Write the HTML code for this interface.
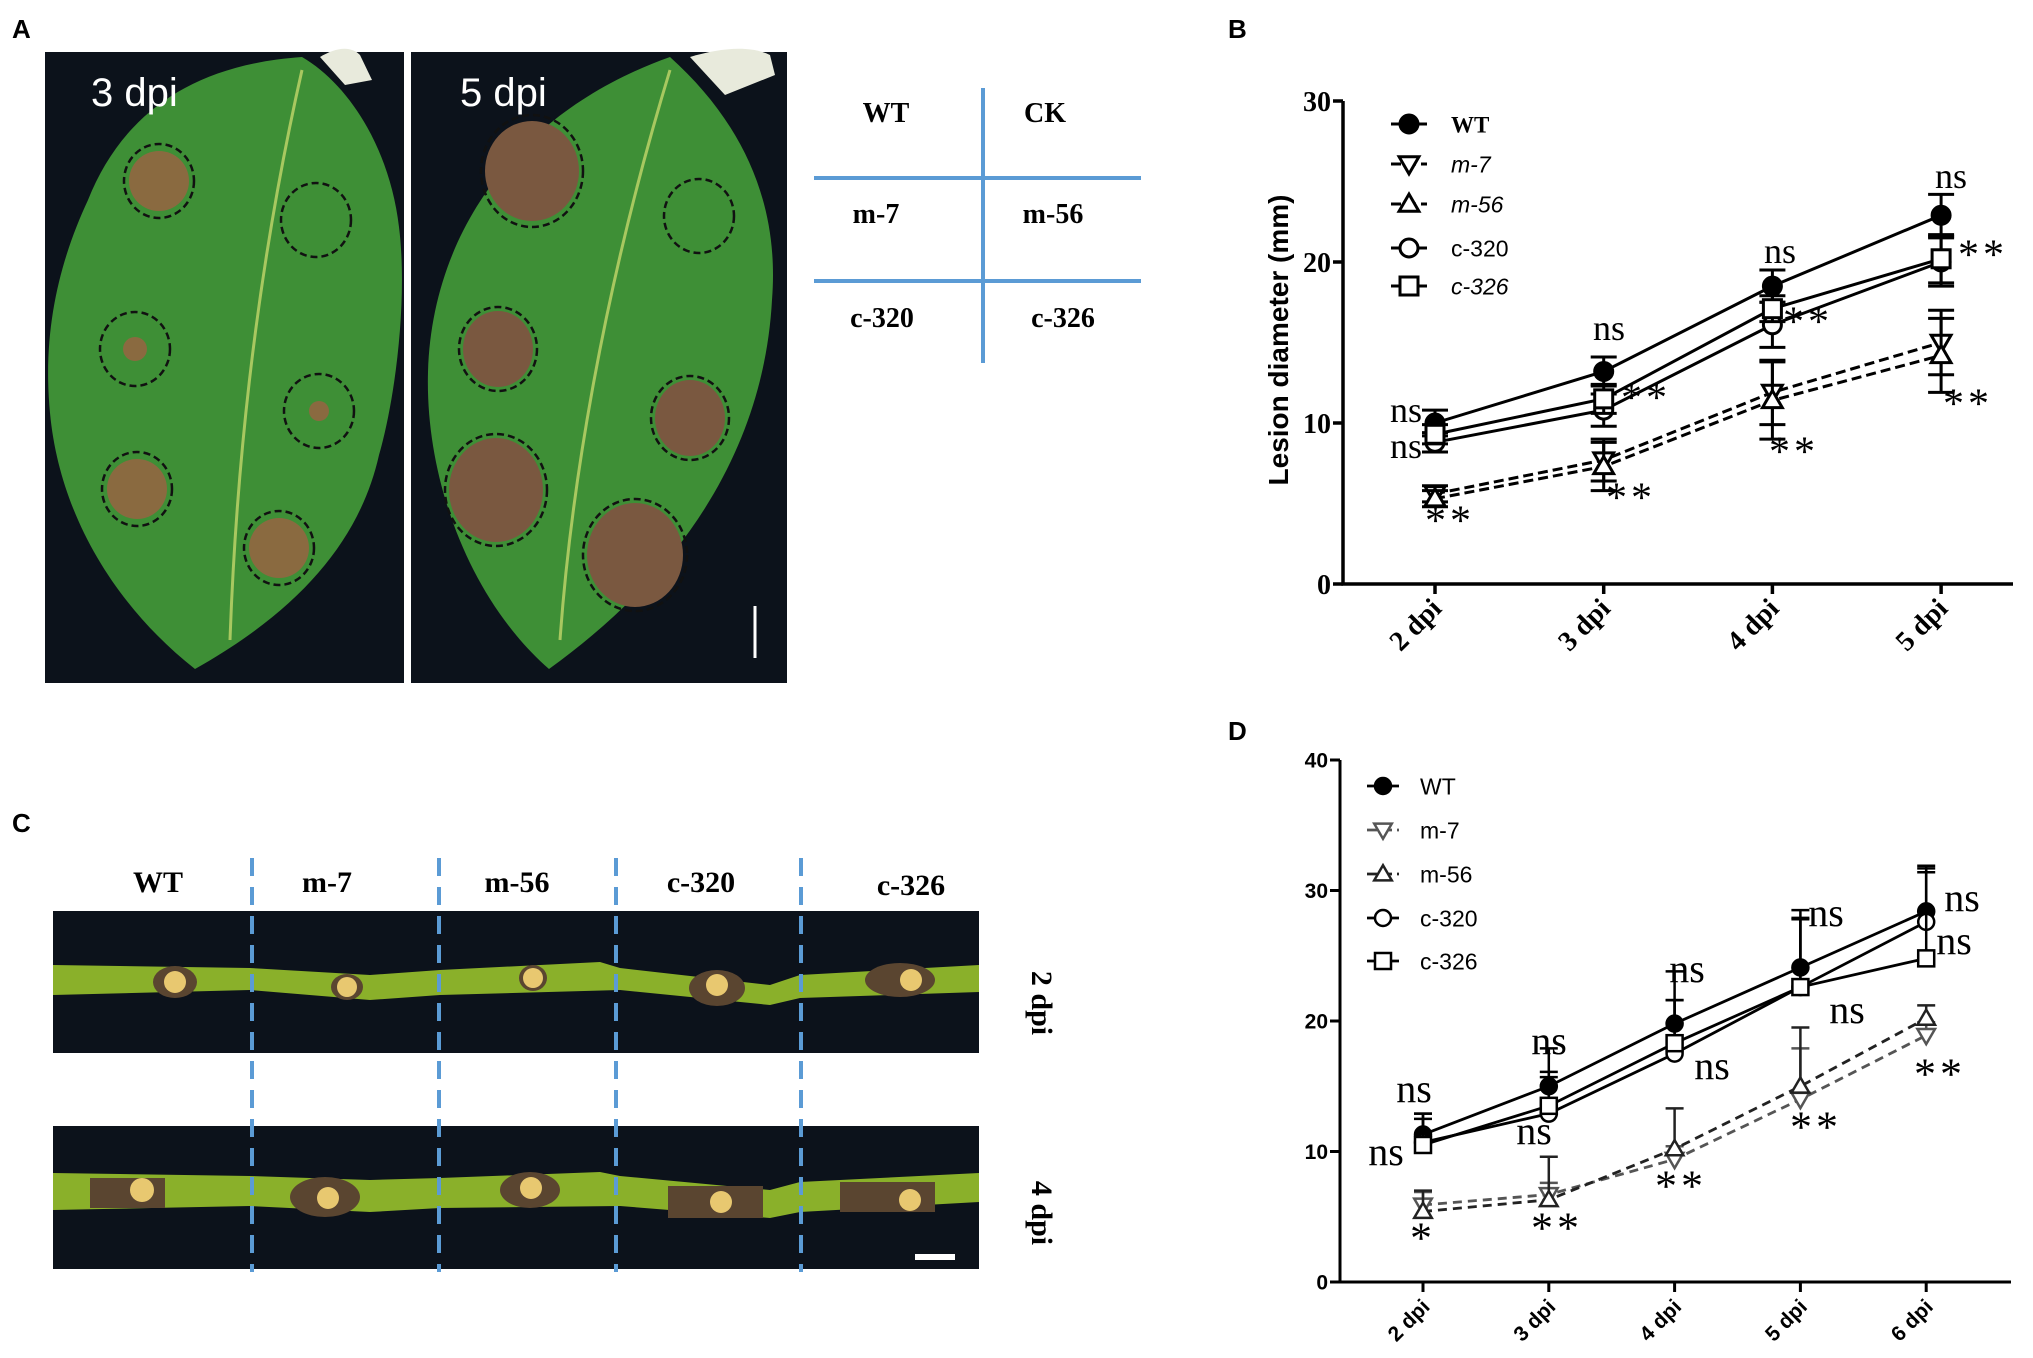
<!DOCTYPE html>
<html><head><meta charset="utf-8"><style>
html,body{margin:0;padding:0;background:#fff;}
svg{display:block;}
.pl{font-family:"Liberation Sans",sans-serif;font-weight:bold;font-size:26px;}
.sb{font-family:"Liberation Serif",serif;font-weight:bold;}
.ss{font-family:"Liberation Serif",serif;}
.sa{font-family:"Liberation Sans",sans-serif;}
</style></head><body>
<svg id="fig" width="2033" height="1358" viewBox="0 0 2033 1358" xmlns="http://www.w3.org/2000/svg">
<text class="pl" x="12" y="38">A</text>
<text class="pl" x="1228" y="38">B</text>
<text class="pl" x="12" y="832">C</text>
<text class="pl" x="1228" y="740">D</text>

<g>
<rect x="45" y="52" width="359" height="631" fill="#0c121b"/>
<path d="M320,57 C335,48 350,45 360,55 L372,80 L345,85 Z" fill="#e8eadc"/>
<path d="M195,669 C120,610 60,520 50,413 C42,330 60,260 88,200 C120,120 185,65 302,57 C350,85 390,150 399,227 C408,300 395,400 379,455 C360,540 300,610 195,669 Z" fill="#3e8f36"/>
<path d="M230,640 C235,500 250,300 302,70" stroke="#a8c860" stroke-width="3" fill="none"/>
<g fill="#8a6a40"><circle cx="159" cy="181" r="30"/><circle cx="135" cy="349" r="12"/><circle cx="319" cy="411" r="10"/><circle cx="137" cy="489" r="30"/><circle cx="279" cy="548" r="30"/></g>
<g fill="none" stroke="#111" stroke-width="2.5" stroke-dasharray="7,4">
<ellipse cx="159" cy="181" rx="35" ry="37"/><ellipse cx="316" cy="220" rx="35" ry="37"/><ellipse cx="135" cy="349" rx="35" ry="37"/><ellipse cx="319" cy="411" rx="35" ry="37"/><ellipse cx="137" cy="489" rx="35" ry="37"/><ellipse cx="279" cy="548" rx="35" ry="37"/></g>
<text class="sa" x="91" y="106" font-size="40" fill="#fff">3 dpi</text>
</g>
<g>
<rect x="411" y="52" width="376" height="631" fill="#0c121b"/>
<path d="M690,57 C720,48 750,45 770,55 L775,75 L725,95 Z" fill="#e8eadc"/>
<path d="M549,669 C470,600 425,480 428,372 C432,230 520,110 670,57 C740,120 780,200 772,300 C765,430 700,560 549,669 Z" fill="#3e8f36"/>
<path d="M560,640 C570,500 600,300 670,70" stroke="#a8c860" stroke-width="3" fill="none"/>
<g fill="#7a5840"><ellipse cx="532" cy="171" rx="47" ry="50"/><ellipse cx="498" cy="349" rx="35" ry="38"/><ellipse cx="690" cy="418" rx="35" ry="38"/><ellipse cx="496" cy="490" rx="47" ry="52"/><ellipse cx="635" cy="555" rx="48" ry="52"/></g>
<g fill="none" stroke="#111" stroke-width="2.5" stroke-dasharray="7,4">
<ellipse cx="532" cy="171" rx="51" ry="56"/><ellipse cx="699" cy="216" rx="35" ry="37"/><ellipse cx="498" cy="349" rx="39" ry="42"/><ellipse cx="690" cy="418" rx="39" ry="42"/><ellipse cx="496" cy="490" rx="51" ry="56"/><ellipse cx="635" cy="555" rx="52" ry="56"/></g>
<line x1="755" y1="606" x2="755" y2="658" stroke="#fff" stroke-width="3"/>
<text class="sa" x="460" y="106" font-size="40" fill="#fff">5 dpi</text>
</g>
<g>
<line x1="983" y1="88" x2="983" y2="363" stroke="#5b9bd5" stroke-width="4"/>
<line x1="814" y1="178" x2="1141" y2="178" stroke="#5b9bd5" stroke-width="4"/>
<line x1="814" y1="281" x2="1141" y2="281" stroke="#5b9bd5" stroke-width="4"/>
<g class="sb" font-size="28" text-anchor="middle">
<text x="886" y="122">WT</text><text x="1045" y="122">CK</text>
<text x="876" y="223">m-7</text><text x="1053" y="223">m-56</text>
<text x="882" y="327">c-320</text><text x="1063" y="327">c-326</text></g>
</g>

<g>
<rect x="53" y="911" width="926" height="142" fill="#0c121b"/>
<rect x="53" y="1126" width="926" height="143" fill="#0c121b"/>
<path d="M53,965 L250,968 L370,975 L440,970 L600,962 L620,968 L770,985 L800,975 L979,965 L979,992 L800,998 L770,1005 L620,990 L440,995 L370,1000 L250,990 L53,995 Z" fill="#8ab02a"/>
<path d="M53,1173 L250,1176 L370,1180 L440,1178 L600,1172 L620,1176 L770,1190 L800,1182 L979,1173 L979,1202 L800,1212 L770,1218 L620,1206 L440,1208 L370,1212 L250,1206 L53,1210 Z" fill="#8ab02a"/>
<g fill="#5a4530"><ellipse cx="175" cy="982" rx="22" ry="16"/><ellipse cx="347" cy="987" rx="16" ry="13"/><ellipse cx="533" cy="978" rx="14" ry="13"/><ellipse cx="717" cy="988" rx="28" ry="18"/><ellipse cx="900" cy="980" rx="35" ry="17"/>
<rect x="90" y="1178" width="75" height="30"/><ellipse cx="325" cy="1197" rx="35" ry="20"/><ellipse cx="530" cy="1190" rx="30" ry="18"/><rect x="668" y="1186" width="95" height="32"/><rect x="840" y="1182" width="95" height="30"/></g>
<g fill="#e8c870"><circle cx="175" cy="982" r="11"/><circle cx="347" cy="987" r="10"/><circle cx="533" cy="978" r="10"/><circle cx="717" cy="985" r="11"/><circle cx="911" cy="980" r="11"/>
<circle cx="142" cy="1190" r="12"/><circle cx="328" cy="1198" r="11"/><circle cx="531" cy="1188" r="11"/><circle cx="721" cy="1202" r="11"/><circle cx="910" cy="1200" r="11"/></g>
<rect x="915" y="1254" width="40" height="6" fill="#fff"/>
</g>
<g stroke="#5b9bd5" stroke-width="4" stroke-dasharray="18,11">
<line x1="252" y1="858" x2="252" y2="1272"/><line x1="439" y1="858" x2="439" y2="1272"/><line x1="616" y1="858" x2="616" y2="1272"/><line x1="801" y1="858" x2="801" y2="1272"/></g>
<g class="sb" font-size="30" text-anchor="middle">
<text x="158" y="892">WT</text><text x="327" y="892">m-7</text><text x="517" y="892">m-56</text><text x="701" y="892">c-320</text><text x="911" y="895">c-326</text></g>
<text class="sb" font-size="30" text-anchor="middle" transform="translate(1032,1003) rotate(90)">2 dpi</text>
<text class="sb" font-size="30" text-anchor="middle" transform="translate(1032,1213) rotate(90)">4 dpi</text>

<text class="sa" font-weight="bold" font-size="28" text-anchor="middle" transform="translate(1288,340) rotate(-90)">Lesion diameter (mm)</text>
<g id="chartB"></g>
<g id="chartD"></g>
</svg>
<script>
const catsB = ["2 dpi","3 dpi","4 dpi","5 dpi"];
const bWT = [10.0,13.2,18.5,22.9];
const bM7 = [5.6,7.7,11.9,15.0];
const bM56 = [5.3,7.3,11.4,14.2];
const bC320 = [8.8,10.8,16.1,20.0];
const bC326 = [9.3,11.5,17.1,20.2];
const bWTerr = [0.8,0.9,1.0,1.3];
const bM7err = [0.5,1.3,2.0,2.0];
const bM56err = [0.5,1.5,2.4,2.3];
const bC320err = [0.6,1.0,1.4,1.5];
const bC326err = [0.6,0.9,0.8,1.5];
const ticksB = [0,10,20,30];
const catsD = ["2 dpi","3 dpi","4 dpi","5 dpi","6 dpi"];
const dWT = [11.3,15.0,19.8,24.1,28.4];
const dM7 = [5.9,6.7,9.4,14.0,18.9];
const dM56 = [5.4,6.3,10.2,15.0,20.2];
const dC320 = [10.7,12.9,17.5,22.6,27.6];
const dC326 = [10.5,13.5,18.3,22.6,24.8];
const dWTerr = [1.6,1.1,1.8,4.4,3.5];
const dM7err = [1.0,0.9,1.0,3.9,1.0];
const dM56err = [1.6,3.3,3.1,4.5,1.0];
const dC320err = [1.8,5.0,6.3,5.3,3.8];
const dC326err = [2.4,2.2,3.3,5.2,6.9];
const ticksD = [0,10,20,30,40];

const NS = "http://www.w3.org/2000/svg";
function mk(parent, tag, attrs, text){
  const e = document.createElementNS(NS, tag);
  for (const k in attrs) e.setAttribute(k, attrs[k]);
  if (text !== undefined) e.textContent = text;
  parent.appendChild(e);
  return e;
}
function marker(g, type, x, y, r, sw, color){
  let e;
  if (type === "circleF") e = mk(g,"circle",{cx:x,cy:y,r:r,fill:color,stroke:color,"stroke-width":sw});
  else if (type === "circleO") e = mk(g,"circle",{cx:x,cy:y,r:r,fill:"#fff",stroke:color,"stroke-width":sw});
  else if (type === "square") e = mk(g,"rect",{x:x-r,y:y-r,width:2*r,height:2*r,fill:"#fff",stroke:color,"stroke-width":sw});
  else if (type === "triDown") e = mk(g,"path",{d:`M${x-r*1.1},${y-r*0.8} L${x+r*1.1},${y-r*0.8} L${x},${y+r*1.1} Z`,fill:"#fff",stroke:color,"stroke-width":sw});
  else e = mk(g,"path",{d:`M${x-r*1.1},${y+r*0.8} L${x+r*1.1},${y+r*0.8} L${x},${y-r*1.1} Z`,fill:"#fff",stroke:color,"stroke-width":sw});
  return e;
}

function drawChart(cfg){
  const g = document.getElementById(cfg.id);
  const xS = i => cfg.x0 + i*cfg.dx;
  const yS = v => cfg.y0 - v/(cfg.ymax) * (cfg.y0 - cfg.y1);
  const ax = mk(g,"path",{d:`M${cfg.ax},${yS(cfg.ymax)} L${cfg.ax},${cfg.y0} L${cfg.axEnd},${cfg.y0}`,fill:"none",stroke:"#000","stroke-width":cfg.axw});
  
  
  cfg.ticks.forEach(t=>{
    mk(g,"line",{x1:cfg.ax-10,y1:yS(t),x2:cfg.ax,y2:yS(t),stroke:"#000","stroke-width":cfg.axw});
    const tl = mk(g,"text",{x:cfg.ax-12,y:yS(t)+cfg.tfs*0.35,"text-anchor":"end","font-size":cfg.tfs,class:cfg.tcls,"font-weight":"bold"},String(t));
    
    
  });
  cfg.cats.forEach((c,i)=>{
    mk(g,"line",{x1:xS(i),y1:cfg.y0,x2:xS(i),y2:cfg.y0+10,stroke:"#000","stroke-width":cfg.axw});
    const xl = mk(g,"text",{transform:`translate(${xS(i)+8},${cfg.y0+26}) rotate(-45)`,"text-anchor":"end","font-size":cfg.xfs,class:cfg.tcls,"font-weight":"bold"},c);
    
    
  });
  cfg.series.forEach(s=>{
    const sg = mk(g,"g",{});
    
    
    const pts = s.vals.map((v,i)=>`${xS(i)},${yS(v)}`).join(" ");
    const pl = mk(sg,"polyline",{points:pts,fill:"none",stroke:s.color,"stroke-width":cfg.lw});
    if (s.dash) pl.setAttribute("stroke-dasharray", cfg.dash);
    
    
    s.vals.forEach((v,i)=>{
      const e = s.err[i];
      const top = yS(v+e), bot = cfg.upOnly ? yS(v) : yS(v-e);
      mk(sg,"line",{x1:xS(i),y1:top,x2:xS(i),y2:bot,stroke:s.color,"stroke-width":cfg.ew});
      mk(sg,"line",{x1:xS(i)-cfg.cap,y1:top,x2:xS(i)+cfg.cap,y2:top,stroke:s.color,"stroke-width":cfg.ew});
      if (!cfg.upOnly) mk(sg,"line",{x1:xS(i)-cfg.cap,y1:bot,x2:xS(i)+cfg.cap,y2:bot,stroke:s.color,"stroke-width":cfg.ew});
      const m = marker(sg, s.mk, xS(i), yS(v), cfg.mr, cfg.msw, s.color);
      
      
    });
  });
  cfg.series.forEach((s,k)=>{
    const y = cfg.legY[k];
    const lg = mk(g,"g",{});
    
    
    const ln = mk(lg,"line",{x1:cfg.legX-cfg.legW,y1:y,x2:cfg.legX+cfg.legW,y2:y,stroke:s.color,"stroke-width":cfg.lw});
    if (s.dash) ln.setAttribute("stroke-dasharray","10,5");
    marker(lg, s.mk, cfg.legX, y, cfg.mr, cfg.msw, s.color);
    const t = mk(lg,"text",{x:cfg.legTx,y:y+cfg.lfs*0.36,"font-size":cfg.lfs,class:cfg.legCls(k)},s.name);
    if (cfg.legItal(k)) t.setAttribute("font-style","italic");
  });
  cfg.ann.forEach(a=>{
    const isNs = a[0]==="ns";
    const t = mk(g,"text",{x:a[1],y:isNs?a[2]:a[2]+cfg.stfs*0.35,"text-anchor":"middle","font-size":isNs?cfg.nsfs:cfg.stfs,class:"ss","letter-spacing":isNs?0:4},a[0]);
    
    
  });
}

drawChart({
  id:"chartB", x0:1435, dx:168.7, y0:584, y1:101, ymax:30, ax:1343, axEnd:2013, axw:3.5,
  ticks:ticksB, tfs:28, xfs:28, tcls:"sb", cats:catsB, lw:3, ew:3, cap:13, mr:9, msw:3, dash:"10,5", upOnly:false,
  series:[
    {name:"WT",vals:bWT,err:bWTerr,mk:"circleF",color:"#000",dash:false},
    {name:"m-7",vals:bM7,err:bM7err,mk:"triDown",color:"#000",dash:true},
    {name:"m-56",vals:bM56,err:bM56err,mk:"triUp",color:"#000",dash:true},
    {name:"c-320",vals:bC320,err:bC320err,mk:"circleO",color:"#000",dash:false},
    {name:"c-326",vals:bC326,err:bC326err,mk:"square",color:"#000",dash:false}
  ],
  legX:1409, legW:18, legTx:1451, legY:[124,164,204,248,286], lfs:23,
  legCls:k=> k===0 ? "sb" : "sa", legItal:k=> k!==0 && k!==3,
  nsfs:36, stfs:42,
  ann:[["ns",1951,188],["ns",1780,263],["ns",1609,340],["ns",1406,422],["ns",1406,458],
       ["**",1983,254],["**",1968,403],["**",1808,321],["**",1794,451],["**",1646,397],["**",1631,497],["**",1450,520]]
});

drawChart({
  id:"chartD", x0:1423, dx:125.8, y0:1282, y1:760, ymax:40, ax:1340, axEnd:2011, axw:3,
  ticks:ticksD, tfs:21, xfs:21, tcls:"sa", cats:catsD, lw:2.8, ew:2.5, cap:9, mr:8, msw:2.5, dash:"9,6", upOnly:true,
  series:[
    {name:"WT",vals:dWT,err:dWTerr,mk:"circleF",color:"#000",dash:false},
    {name:"m-7",vals:dM7,err:dM7err,mk:"triDown",color:"#555",dash:true},
    {name:"m-56",vals:dM56,err:dM56err,mk:"triUp",color:"#222",dash:true},
    {name:"c-320",vals:dC320,err:dC320err,mk:"circleO",color:"#000",dash:false},
    {name:"c-326",vals:dC326,err:dC326err,mk:"square",color:"#000",dash:false}
  ],
  legX:1383, legW:16, legTx:1420, legY:[786,830,874,918,961], lfs:23,
  legCls:k=>"sa", legItal:k=>false,
  nsfs:40, stfs:44,
  ann:[["ns",1414,1102],["ns",1386,1165],["ns",1549,1054],["ns",1534,1144],["ns",1687,982],["ns",1712,1079],
       ["ns",1826,926],["ns",1847,1023],["ns",1962,911],["ns",1954,954],
       ["*",1423,1237],["**",1557,1227],["**",1681,1185],["**",1816,1126],["**",1940,1073]]
});
document.querySelectorAll('#chartD g text.sa').forEach(t=>t.setAttribute("font-weight","normal"));
</script>
</body></html>
